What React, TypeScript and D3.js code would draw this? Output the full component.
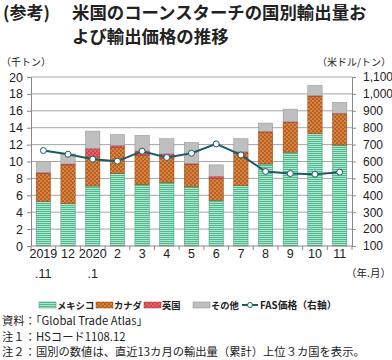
import { useEffect, useRef } from 'react'
import * as d3 from 'd3'

const months = ['2019', '12', '2020', '2', '3', '4', '5', '6', '7', '8', '9', '10', '11']
const subLabels = ['.11', '', '.1', '', '', '', '', '', '', '', '', '', '']
const mexico = [5.3, 5.0, 7.1, 8.6, 7.25, 7.5, 7.0, 5.4, 7.15, 9.7, 11.1, 13.3, 11.95]
const canada = [3.3, 4.6, 3.45, 3.05, 3.5, 2.9, 2.7, 2.6, 3.85, 3.8, 3.5, 4.4, 3.7]
const uk = [0.1, 0.1, 1.0, 0.25, 0.5, 0.5, 0.05, 0.25, 0.15, 0.05, 0.1, 0.1, 0.05]
const other = [1.3, 1.2, 2.05, 1.3, 1.85, 1.8, 2.5, 1.35, 1.55, 1.0, 1.5, 1.2, 1.3]
const fasPrice = [665, 643, 614, 602, 661, 624, 649, 704, 639, 541, 529, 525, 537]
const leftTicks = [0, 2, 4, 6, 8, 10, 12, 14, 16, 18, 20]
const rightTicks = [100, 200, 300, 400, 500, 600, 700, 800, 900, 1000, 1100]

const seriesKeys = ['mexico', 'canada', 'uk', 'other']
const seriesNames = ['メキシコ', 'カナダ', '英国', 'その他']
const fills = ['url(#pGreen)', 'url(#pOrange)', 'url(#pRed)', '#bfbfbf']
const edges = ['#3a9a74', '#8a4412', '#a8303a', '#8f8f8f']

const JP = '"Noto Sans CJK JP", "Noto Sans", sans-serif'
const NUM = '"Liberation Sans", Arial, sans-serif'

export default function App() {
  const svgRef = useRef<SVGSVGElement>(null)
  const width = 392
  const height = 360

  useEffect(() => {
    if (!svgRef.current) return
    const svg = d3.select(svgRef.current)
    svg.selectAll('*').remove()

    // patterns
    const defs = svg.append('defs')
    const pg = defs.append('pattern').attr('id', 'pGreen').attr('patternUnits', 'userSpaceOnUse')
      .attr('width', 4).attr('height', 4)
    pg.append('rect').attr('width', 4).attr('height', 4).attr('fill', '#4dbb8f')
    pg.append('path').attr('d', 'M0,1 L1,0 L2,1 L3,0 L4,1 M0,3 L1,2 L2,3 L3,2 L4,3')
      .attr('stroke', '#c9efdc').attr('stroke-width', 0.8).attr('fill', 'none')
    const po = defs.append('pattern').attr('id', 'pOrange').attr('patternUnits', 'userSpaceOnUse')
      .attr('width', 4).attr('height', 4)
    po.append('rect').attr('width', 4).attr('height', 4).attr('fill', '#bf5f1e')
    po.append('circle').attr('cx', 1).attr('cy', 1).attr('r', 0.7).attr('fill', '#f3c98e')
    po.append('circle').attr('cx', 3).attr('cy', 3).attr('r', 0.7).attr('fill', '#f3c98e')
    const pr = defs.append('pattern').attr('id', 'pRed').attr('patternUnits', 'userSpaceOnUse')
      .attr('width', 4).attr('height', 4)
    pr.append('rect').attr('width', 4).attr('height', 4).attr('fill', '#d4434c')
    pr.append('circle').attr('cx', 1).attr('cy', 1).attr('r', 0.7).attr('fill', '#f2a0a6')
    pr.append('circle').attr('cx', 3).attr('cy', 3).attr('r', 0.7).attr('fill', '#f2a0a6')

    const left = 31
    const right = 352
    const top = 77
    const bottom = 246

    const x = d3.scaleBand<number>().domain(d3.range(months.length)).range([left, right]).paddingInner(0.42).paddingOuter(0.21)
    const y = d3.scaleLinear().domain([0, 20]).range([bottom, top])
    const y2 = d3.scaleLinear().domain([100, 1100]).range([bottom, top])

    // Title
    svg.append('text').attr('x', 3).attr('y', 19).attr('font-family', JP).attr('font-size', 17)
      .attr('font-weight', 'bold').attr('fill', '#222').text('(参考)')
    svg.append('text').attr('x', 72).attr('y', 19).attr('font-family', JP).attr('font-size', 17.4)
      .attr('font-weight', 'bold').attr('fill', '#222').text('米国のコーンスターチの国別輸出量お')
    svg.append('text').attr('x', 72).attr('y', 43).attr('font-family', JP).attr('font-size', 17.4)
      .attr('font-weight', 'bold').attr('fill', '#222').text('よび輸出価格の推移')

    // Unit labels
    svg.append('text').attr('x', 1).attr('y', 66).attr('font-family', JP).attr('font-size', 10)
      .attr('fill', '#222').text('（千トン）')
    svg.append('text').attr('x', 391).attr('y', 66).attr('text-anchor', 'end').attr('font-family', JP)
      .attr('font-size', 10).attr('fill', '#222').text('（米ドル/トン）')

    // Grid
    svg.append('g').selectAll('line').data(leftTicks.slice(1)).join('line')
      .attr('x1', left).attr('x2', right).attr('y1', d => y(d)).attr('y2', d => y(d))
      .attr('stroke', '#a6a6a6').attr('stroke-width', 1)

    // Left axis
    const gl = svg.append('g').attr('transform', `translate(${left},0)`)
      .call(d3.axisLeft(y).tickValues(leftTicks).tickSize(4).tickPadding(4))
    gl.select('.domain').attr('stroke', '#888')
    gl.selectAll('.tick line').attr('stroke', '#888')
    gl.selectAll('.tick text').attr('font-family', NUM).attr('font-size', 12.5).attr('fill', '#222')

    // Right axis
    const gr = svg.append('g').attr('transform', `translate(${right},0)`)
      .call(d3.axisRight(y2).tickValues(rightTicks).tickSize(4).tickPadding(7).tickFormat(d3.format(',')))
    gr.select('.domain').attr('stroke', '#888')
    gr.selectAll('.tick line').attr('stroke', '#888')
    gr.selectAll('.tick text').attr('font-family', NUM).attr('font-size', 12).attr('fill', '#222')

    // Stacked bars
    const rows = months.map((m, i) => ({ i, mexico: mexico[i], canada: canada[i], uk: uk[i], other: other[i] }))
    const stacked = d3.stack<any>().keys(seriesKeys)(rows)
    stacked.forEach((layer, k) => {
      svg.append('g').selectAll('rect').data(layer).join('rect')
        .attr('x', (d: any) => x(d.data.i)!)
        .attr('width', x.bandwidth())
        .attr('y', d => y(d[1]))
        .attr('height', d => Math.max(0.6, y(d[0]) - y(d[1])))
        .attr('fill', fills[k])
        .attr('stroke', edges[k])
        .attr('stroke-width', 0.5)
    })

    // x axis line and ticks
    svg.append('line').attr('x1', left).attr('x2', right).attr('y1', bottom).attr('y2', bottom)
      .attr('stroke', '#888')
    svg.append('g').selectAll('line').data(d3.range(months.length + 1)).join('line')
      .attr('x1', d => left + d * x.step())
      .attr('x2', d => left + d * x.step())
      .attr('y1', bottom).attr('y2', bottom + 4)
      .attr('stroke', '#888')

    // x labels
    svg.append('g').selectAll('text').data(months).join('text')
      .attr('x', (d, i) => x(i)! + x.bandwidth() / 2)
      .attr('y', 258).attr('text-anchor', 'middle')
      .attr('font-family', NUM).attr('font-size', 12.5).attr('fill', '#222')
      .text(d => d)
    svg.append('g').selectAll('text').data(subLabels).join('text')
      .attr('x', (d, i) => x(i)! + x.bandwidth() / 2)
      .attr('y', 278).attr('text-anchor', 'middle')
      .attr('font-family', NUM).attr('font-size', 12.5).attr('fill', '#222')
      .text(d => d)
    svg.append('text').attr('x', 391).attr('y', 277).attr('text-anchor', 'end')
      .attr('font-family', JP).attr('font-size', 10.5).attr('fill', '#222').text('（年.月）')

    // FAS line
    const line = d3.line<number>()
      .x((d, i) => x(i)! + x.bandwidth() / 2)
      .y(d => y2(d))
    svg.append('path').datum(fasPrice).attr('d', line).attr('fill', 'none')
      .attr('stroke', '#1b5b68').attr('stroke-width', 2)
    svg.append('g').selectAll('circle').data(fasPrice).join('circle')
      .attr('cx', (d, i) => x(i)! + x.bandwidth() / 2)
      .attr('cy', d => y2(d))
      .attr('r', 3).attr('fill', '#fff').attr('stroke', '#1b5b68').attr('stroke-width', 1)

    // Legend
    const lg = svg.append('g').attr('transform', 'translate(0,305)')
    const legendX = [39, 96, 144, 193]
    seriesNames.forEach((name, k) => {
      lg.append('rect').attr('x', legendX[k]).attr('y', -3).attr('width', 17).attr('height', 6)
        .attr('fill', fills[k]).attr('stroke', edges[k]).attr('stroke-width', 0.5)
      lg.append('text').attr('x', legendX[k] + 18).attr('y', 3.6).attr('font-family', JP)
        .attr('font-size', 9.3).attr('font-weight', 'bold').attr('fill', '#222').text(name)
    })
    lg.append('line').attr('x1', 242).attr('x2', 258).attr('y1', 0).attr('y2', 0)
      .attr('stroke', '#1b5b68').attr('stroke-width', 2)
    lg.append('circle').attr('cx', 250).attr('cy', 0).attr('r', 2.5).attr('fill', '#fff')
      .attr('stroke', '#1b5b68').attr('stroke-width', 1)
    lg.append('text').attr('x', 260).attr('y', 3.6).attr('font-family', JP).attr('font-size', 9.8)
      .attr('font-weight', 'bold').attr('fill', '#222').text('FAS価格（右軸）')

    // Notes
    const notes = [
      '資料：「Global Trade Atlas」',
      '注１：HSコード1108.12',
      '注２：国別の数値は、直近13カ月の輸出量（累計）上位３カ国を表示。',
    ]
    svg.append('g').selectAll('text').data(notes).join('text')
      .attr('x', 2).attr('y', (d, i) => 325 + i * 15.5)
      .attr('font-family', JP).attr('font-size', 11.3).attr('fill', '#222')
      .text(d => d)
  }, [])

  return (
    <svg ref={svgRef} width={width} height={height}
      style={{ position: 'absolute', left: 0, top: 0, background: '#fff' }} />
  )
}
